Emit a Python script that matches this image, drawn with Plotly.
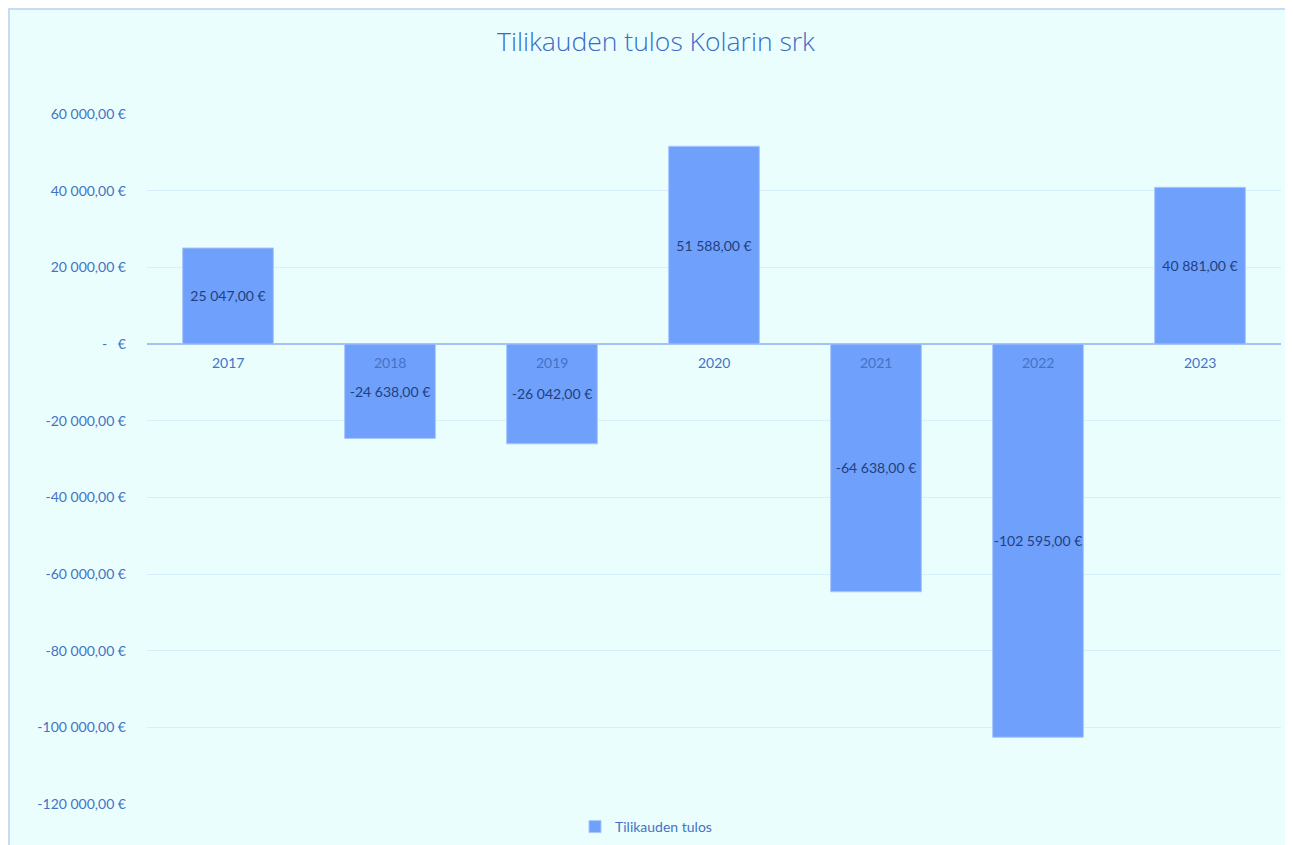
import plotly.graph_objects as go

years = ["2017", "2018", "2019", "2020", "2021", "2022", "2023"]
results = [25047, -24638, -26042, 51588, -64638, -102595, 40881]
value_labels = ["25 047,00 €", "-24 638,00 €", "-26 042,00 €", "51 588,00 €",
                "-64 638,00 €", "-102 595,00 €", "40 881,00 €"]
ytick_vals = [60000, 40000, 20000, 0, -20000, -40000, -60000, -80000, -100000, -120000]
ytick_text = ["60 000,00 €", "40 000,00 €", "20 000,00 €", "-   €", "-20 000,00 €",
              "-40 000,00 €", "-60 000,00 €", "-80 000,00 €", "-100 000,00 €", "-120 000,00 €"]
series_name = "Tilikauden tulos"
title_text = "Tilikauden tulos Kolarin srk"

FONT = "Lato, Carlito, Calibri, sans-serif"
TICK_COLOR = "#4472C4"
LABEL_COLOR = "#22407E"

W, H = 1293, 845
L, R, T, B = 139, 20, 106, 49
PW, PH = W - L - R, H - T - B

fig = go.Figure()
fig.add_trace(go.Bar(
    x=years, y=results, name=series_name,
    marker=dict(color="#6FA0FC", line=dict(color="#A9C7FB", width=1)),
    text=value_labels, textposition="inside", insidetextanchor="middle",
    textangle=0, constraintext="none",
    textfont=dict(color=LABEL_COLOR, size=14, family=FONT),
    width=0.56,
))

for i, yr in enumerate(years):
    fig.add_annotation(x=i, y=0, xref="x", yref="y", text=yr, showarrow=False,
                       yanchor="top", yshift=-8,
                       font=dict(color=TICK_COLOR, size=14, family=FONT))

fig.add_shape(type="rect", xref="paper", yref="paper",
              x0=(1 - L) / PW, x1=(W + 20 - L) / PW,
              y0=-(B + 20) / PH, y1=1 + (T - 1) / PH,
              fillcolor="#EAFEFE", line=dict(color="#C6DCF5", width=2), layer="below")

fig.update_layout(
    width=W, height=H,
    margin=dict(l=L, r=R, t=T, b=B, autoexpand=False),
    paper_bgcolor="white", plot_bgcolor="rgba(0,0,0,0)",
    title=dict(text=title_text, x=648 / W, xanchor="center", y=1 - 34 / H, yanchor="middle",
               font=dict(color="#3A6BC8", size=26.5, family="Open Sans, sans-serif", weight=300),
               automargin=False),
    font=dict(family=FONT),
    bargap=0.44,
    showlegend=True,
    legend=dict(orientation="h", x=(567 - L) / PW, xanchor="left", y=-23 / PH, yanchor="middle",
                font=dict(color=TICK_COLOR, size=14, family=FONT), bgcolor="rgba(0,0,0,0)"),
    xaxis=dict(type="category", showticklabels=False, showgrid=False, zeroline=False, showline=False,
               range=[-0.5, 6.5]),
    yaxis=dict(range=[-120000, 60000], tickvals=ytick_vals, ticktext=ytick_text,
               tickfont=dict(color=TICK_COLOR, size=14, family=FONT),
               showgrid=True, gridcolor="#D5F0FA", gridwidth=1,
               zeroline=True, zerolinecolor="#A3C2F2", zerolinewidth=2,
               ticks="", ticklabelstandoff=20, showline=False, automargin=False),
)

fig.write_html("out.html")
